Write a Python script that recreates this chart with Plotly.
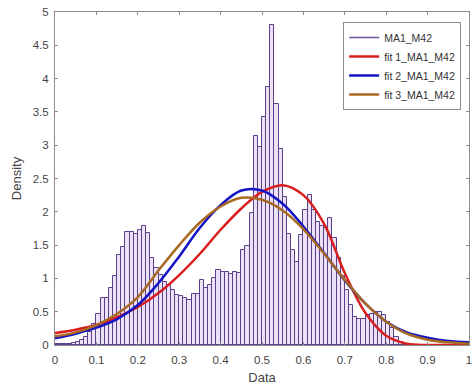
import plotly.graph_objects as go

# Histogram data (bin width 0.01, bins starting at 0.00 ... 0.99)
bin_width = 0.01
bin_starts = [round(i * 0.01, 2) for i in range(100)]
density = [
    0.01, 0.01, 0.01, 0.02, 0.03, 0.05, 0.08, 0.12, 0.20, 0.32,
    0.46, 0.70, 0.71, 0.86, 1.03, 1.35, 1.47, 1.70, 1.70, 1.66,
    1.72, 1.79, 1.68, 1.30, 1.15, 1.05, 0.95, 0.90, 0.83, 0.75,
    0.73, 0.71, 0.68, 0.76, 0.76, 0.97, 0.85, 0.90, 1.00, 1.12,
    1.10, 1.10, 1.07, 1.10, 1.08, 1.42, 1.48, 1.98, 3.14, 2.98,
    3.42, 3.87, 4.80, 3.62, 2.94, 2.22, 1.67, 1.43, 1.25, 1.65,
    2.02, 2.25, 2.03, 1.85, 1.78, 1.75, 1.90, 1.60, 1.30, 1.03,
    0.82, 0.60, 0.42, 0.39, 0.39, 0.45, 0.47, 0.50, 0.50, 0.45,
    0.35, 0.25, 0.12, 0.05, 0.02, 0.01, 0.005, 0.005, 0.005, 0.005,
    0.0, 0.0, 0.0, 0.0, 0.0, 0.0, 0.0, 0.0, 0.0, 0.0,
]
bin_centers = [s + bin_width / 2 for s in bin_starts]

# Fitted curves at 0.05 steps
fit_x = [0.0, 0.05, 0.1, 0.15, 0.2, 0.25, 0.3, 0.35, 0.4, 0.45, 0.5,
         0.55, 0.6, 0.65, 0.7, 0.75, 0.8, 0.85, 0.9, 0.95, 1.0]
fit1 = [0.18, 0.23, 0.30, 0.42, 0.57, 0.78, 1.05, 1.37, 1.73, 2.05, 2.30,
        2.40, 2.25, 1.82, 1.08, 0.48, 0.14, 0.02, 0.0, 0.0, 0.0]
fit2 = [0.10, 0.17, 0.26, 0.39, 0.60, 0.93, 1.33, 1.76, 2.10, 2.32, 2.32,
        2.12, 1.78, 1.38, 0.97, 0.62, 0.35, 0.19, 0.11, 0.06, 0.04]
fit3 = [0.13, 0.19, 0.30, 0.47, 0.72, 1.12, 1.50, 1.84, 2.08, 2.21, 2.18,
        2.02, 1.74, 1.37, 0.98, 0.62, 0.35, 0.17, 0.08, 0.04, 0.02]

x_ticks = [0, 0.1, 0.2, 0.3, 0.4, 0.5, 0.6, 0.7, 0.8, 0.9, 1]
x_tick_labels = ["0", "0.1", "0.2", "0.3", "0.4", "0.5", "0.6", "0.7", "0.8", "0.9", "1"]
y_ticks = [0, 0.5, 1, 1.5, 2, 2.5, 3, 3.5, 4, 4.5, 5]
y_tick_labels = ["0", "0.5", "1", "1.5", "2", "2.5", "3", "3.5", "4", "4.5", "5"]

fig = go.Figure()
fig.add_trace(go.Bar(
    x=bin_centers, y=density, width=bin_width,
    marker=dict(color="#ebe2f5", line=dict(color="#5b3f8c", width=1)),
    showlegend=False, name="MA1_M42",
))
fig.add_trace(go.Scatter(
    x=[None], y=[None], mode="lines", name="MA1_M42",
    line=dict(color="#6f55a0", width=1.5),
))
fig.add_trace(go.Scatter(
    x=fit_x, y=fit1, mode="lines", name="fit 1_MA1_M42",
    line=dict(color="#d81e1e", width=2.5, shape="spline"),
))
fig.add_trace(go.Scatter(
    x=fit_x, y=fit2, mode="lines", name="fit 2_MA1_M42",
    line=dict(color="#1414c4", width=2.5, shape="spline"),
))
fig.add_trace(go.Scatter(
    x=fit_x, y=fit3, mode="lines", name="fit 3_MA1_M42",
    line=dict(color="#a86a22", width=2.5, shape="spline"),
))

axis_common = dict(
    showline=True, linecolor="#8c8c8c", linewidth=1, mirror="ticks",
    ticks="inside", ticklen=3, tickcolor="#8c8c8c",
    showgrid=False, zeroline=False,
    tickfont=dict(family="Liberation Sans, Arial", size=11.5, color="#444444"),
)
title_font = dict(family="Liberation Sans, Arial", size=13, color="#444444")

fig.update_layout(
    width=476, height=389,
    margin=dict(l=55, r=4, t=12, b=44),
    paper_bgcolor="white", plot_bgcolor="white",
    bargap=0,
    xaxis=dict(range=[0, 1], tickvals=x_ticks, ticktext=x_tick_labels,
               ticklabelstandoff=4,
               title=dict(text="Data", font=title_font, standoff=8),
               **axis_common),
    yaxis=dict(range=[0, 5], tickvals=y_ticks, ticktext=y_tick_labels,
               ticklabelstandoff=3,
               title=dict(text="Density", font=title_font, standoff=8),
               **axis_common),
    legend=dict(
        x=0.981, y=0.97, xanchor="right", yanchor="top",
        bgcolor="white", bordercolor="#8c8c8c", borderwidth=1,
        font=dict(family="Liberation Sans, Arial", size=10.5, color="#333333"),
        tracegroupgap=0,
    ),
)

fig.write_html("out.html")
